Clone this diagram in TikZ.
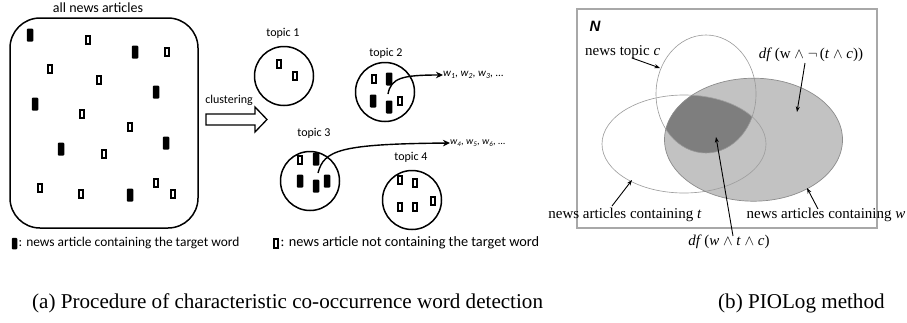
\documentclass[tikz,border=0pt]{standalone}
\usepackage{fontspec}
\setmainfont{Liberation Serif}
\newfontfamily\carl{Carlito}
\newfontfamily\arialf{Liberation Sans}
\usetikzlibrary{arrows.meta}
\definecolor{wfill}{HTML}{C2C2C2}
\definecolor{dfill}{HTML}{7E7E7E}
\definecolor{boxgray}{HTML}{A8A8A8}
\begin{document}
\begin{tikzpicture}[x=1pt,y=-1pt,
  farticle/.style={draw=none, fill=black, minimum width=6.5pt, minimum height=13pt, inner sep=0pt, rounded corners=1pt},
  oarticle/.style={draw=black, line width=1.7pt, fill=white, minimum width=4.6pt, minimum height=8.6pt, inner sep=0pt},
  topiccircle/.style={circle, draw, line width=1.5pt, minimum size=59pt, inner sep=0pt},
  toplbl/.style={font={\carl\fontsize{12}{14}\selectfont}, inner sep=0pt},
  lgd/.style={inner sep=0pt},
  curvearrow/.style={line width=1.4pt, -{Stealth[length=7pt,width=6.5pt]}},
  vlbl/.style={font={\fontsize{15}{17}\selectfont}, inner sep=0pt},
  varrow/.style={line width=0.9pt, -{Stealth[length=5.5pt,width=4pt]}},
  captext/.style={font={\fontsize{21.1}{24}\selectfont}, inner sep=0pt}
]
\useasboundingbox (0,0) rectangle (907,322);

% ---------- left panel ----------
\node[anchor=base, font={\carl\fontsize{14}{16}\selectfont}, inner sep=0pt] (alllbl) at (98,12) {all news articles};
\node[draw, line width=1.5pt, rounded corners=30pt, minimum width=188pt, minimum height=210pt, inner sep=0pt] (all) at (104,123) {};

\foreach \x/\y [count=\i] in {30/35,135/52,156/92,35/104,61/149,166/143,130/195}
  \node[farticle] (f\i) at (\x,\y) {};
\foreach \x/\y [count=\i] in {88/40,167/52,50/69,99/80,82/114,130/127,104/154,40/188,81/194,156/183,173/194}
  \node[oarticle] (o\i) at (\x,\y) {};

% clustering arrow
\node[toplbl] (clus) at (229,100) {clustering};
\draw[line width=1.3pt] (206,114) -- (255,114) -- (255,107) -- (267,119.5) -- (255,132) -- (255,125) -- (206,125) -- cycle;

% topics
\node[toplbl] (t1lbl) at (283,33) {topic 1};
\node[topiccircle] (t1) at (284,76) {};
\node[oarticle] (t1a) at (279,64) {};
\node[oarticle] (t1b) at (295,76) {};

\node[toplbl] (t2lbl) at (386,53) {topic 2};
\node[topiccircle] (t2) at (385,92) {};
\node[oarticle] (t2a) at (374,79) {};
\node[farticle] (t2b) at (389,79) {};
\node[farticle] (t2c) at (373,101) {};
\node[farticle] (t2d) at (389,107) {};
\node[oarticle] (t2e) at (400,101) {};

\node[toplbl] (t3lbl) at (314,133) {topic 3};
\node[topiccircle] (t3) at (310,181) {};
\node[oarticle] (t3a) at (300,160) {};
\node[farticle] (t3b) at (316,159) {};
\node[farticle] (t3c) at (300,181) {};
\node[farticle] (t3d) at (316,186) {};
\node[farticle] (t3e) at (327,181) {};

\node[toplbl] (t4lbl) at (411,157) {topic 4};
\node[topiccircle] (t4) at (412,200) {};
\node[oarticle] (t4a) at (400,180) {};
\node[oarticle] (t4b) at (415,183) {};
\node[oarticle] (t4c) at (400,207) {};
\node[oarticle] (t4d) at (415,207) {};
\node[oarticle] (t4e) at (433,201) {};

% word lists
\node[anchor=west, font={\carl\itshape\fontsize{11}{13}\selectfont}, inner sep=0pt] (w123) at (443,75) {w\textsubscript{1}, w\textsubscript{2}, w\textsubscript{3}, ...};
\node[anchor=west, font={\carl\itshape\fontsize{10}{12}\selectfont}, inner sep=0pt] (w456) at (450,143) {w\textsubscript{4}, w\textsubscript{5}, w\textsubscript{6}, ...};
\coordinate (s2) at (388,94);
\coordinate (s3) at (318,173);
\draw[curvearrow] (s2) .. controls (391,78) and (402,75) .. (w123.west);
\draw[curvearrow] (s3) .. controls (324,150) and (340,144) .. (w456.west);

% legend
\node[farticle, minimum width=5.5pt, minimum height=11.5pt] (lf) at (14.5,243.5) {};
\node[lgd, anchor=west, font={\carl\fontsize{13.4}{16}\selectfont}] (lft) at (18.5,243) {: news article containing the target word};
\node[oarticle, minimum height=9pt] (lo) at (276,243.5) {};
\node[lgd, anchor=west, font={\carl\fontsize{14.3}{16}\selectfont}] (lot) at (280.5,243) {: news article not containing the target word};

% ---------- right panel ----------
\node[draw=boxgray, line width=1.3pt, minimum width=300pt, minimum height=219pt, inner sep=0pt] (Nbox) at (727,118.5) {};
\node[font={\arialf\bfseries\itshape\fontsize{15}{15}\selectfont}, inner sep=0pt] (N) at (595,26) {N};

\fill[wfill] (753.5,139.7) ellipse [x radius=89pt, y radius=61.5pt];
\begin{scope}
  \clip (684,144) ellipse [x radius=82pt, y radius=49pt];
  \clip (706,94) ellipse [x radius=50pt, y radius=59pt];
  \fill[dfill] (753.5,139.7) ellipse [x radius=89pt, y radius=61.5pt];
\end{scope}
\draw[gray!80, line width=0.6pt] (706,94) ellipse [x radius=50pt, y radius=59pt];
\draw[gray!75, line width=0.65pt] (684,144) ellipse [x radius=82pt, y radius=49pt];
\draw[gray!110!black, line width=0.7pt] (753.5,139.7) ellipse [x radius=89pt, y radius=61.5pt];

% labels and arrows
\node[vlbl, anchor=west] (ntc) at (585,52) {news topic \textit{c}};
\coordinate (ntcs) at (632,58);
\coordinate (ntce) at (660,68);
\draw[varrow] (ntcs) -- (ntce);

\node[vlbl] (df1) at (811,55) {\textit{df}\,(w $\wedge$ $\neg$\,(\textit{t} $\wedge$ \textit{c}))};
\coordinate (df1s) at (805,63);
\coordinate (df1e) at (797,112);
\draw[varrow] (df1s) -- (df1e);

\node[vlbl] (nat) at (625,215) {news articles containing \textit{t}};
\coordinate (nats) at (612,206);
\coordinate (nate) at (632,180);
\draw[varrow] (nats) -- (nate);

\node[vlbl] (naw) at (826,215) {news articles containing \textit{w}};
\coordinate (naws) at (818,209);
\coordinate (nawe) at (807,188);
\draw[varrow] (naws) -- (nawe);

\node[vlbl] (df2) at (729,242) {\textit{df}\,(\textit{w} $\wedge$ \textit{t} $\wedge$ \textit{c})};
\coordinate (df2s) at (733,236);
\coordinate (df2e) at (716,137);
\draw[varrow] (df2s) -- (df2e);

% captions
\node[captext, anchor=base west] (capa) at (32,308) {(a) Procedure of characteristic co-occurrence word detection};
\node[captext, anchor=base west] (capb) at (718,308) {(b) PIOLog method};
\end{tikzpicture}
\end{document}
